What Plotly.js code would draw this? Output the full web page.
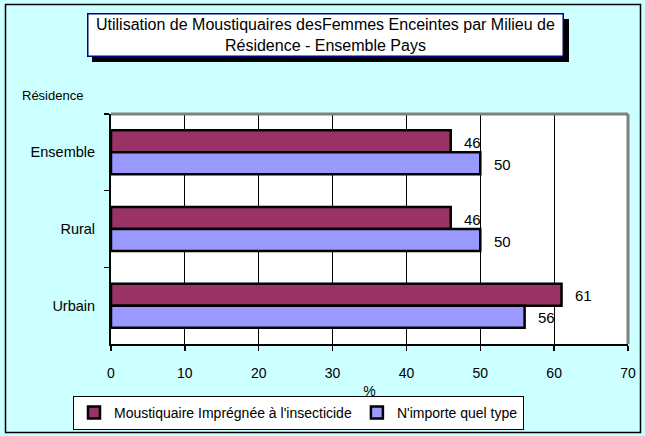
<!DOCTYPE html>
<html>
<head>
<meta charset="utf-8">
<script src="https://cdn.plot.ly/plotly-3.0.1.min.js"></script>
<style>
html,body{margin:0;padding:0;background:#CCFFFF;}
#chart{width:645px;height:436px;}
</style>
</head>
<body>
<div id="chart"></div>
<script>
// Data
var categories = ["Ensemble", "Rural", "Urbain"];
var seriesNames = ["Moustiquaire Imprégnée à l'insecticide", "N'importe quel type"];
var impregnee = [46, 46, 61];
var nimporte = [50, 50, 56];
var xTicks = [0, 10, 20, 30, 40, 50, 60, 70];

var W = 645, H = 436;
var mL = 111, mR = 17, mT = 114, mB = 92;
var pw = W - mL - mR, ph = H - mT - mB;
function px(x){ return (x - mL) / pw; }
function py(y){ return (H - mB - y) / ph; }

var font = "Liberation Sans, Arial, sans-serif";

var traces = [
  {type:"bar", orientation:"h", name:seriesNames[0], y:categories, x:impregnee,
   marker:{color:"#993366", line:{color:"#000000", width:2.5}}, hoverinfo:"x"},
  {type:"bar", orientation:"h", name:seriesNames[1], y:categories, x:nimporte,
   marker:{color:"#9999FF", line:{color:"#000000", width:2.5}}, hoverinfo:"x"}
];

var annotations = [];
[impregnee, nimporte].forEach(function(vals, s){
  vals.forEach(function(v, i){
    annotations.push({x:v, y:categories[i], xref:"x", yref:"y", text:String(v),
      showarrow:false, xanchor:"center", yanchor:"middle", xshift:22, yshift:(s===0?10:-12),
      font:{family:font, size:15, color:"#000"}});
  });
});
// title box
annotations.push({xref:"paper", yref:"paper", x:px(325.5), y:py(35), xanchor:"center", yanchor:"middle",
  text:"Utilisation de Moustiquaires desFemmes Enceintes par Milieu de<br>Résidence - Ensemble Pays",
  showarrow:false, bgcolor:"#FFFFFF", bordercolor:"#000080", borderwidth:1.5, borderpad:0,
  width:474, height:41, align:"center", font:{family:font, size:16, color:"#000"}});
// y axis title
annotations.push({xref:"paper", yref:"paper", x:px(20), y:py(95), xanchor:"left", yanchor:"middle",
  text:"Résidence", showarrow:false, font:{family:font, size:13, color:"#000"}});

var shapes = [
  // title shadow
  {type:"rect", xref:"paper", yref:"paper", x0:px(92), x1:px(569), y0:py(62), y1:py(19),
   fillcolor:"#000000", line:{width:0}, layer:"below"},
  // grey top/right plot border
  {type:"line", xref:"paper", yref:"paper", x0:0, x1:1, y0:1, y1:1, line:{color:"#808080", width:3}},
  {type:"line", xref:"paper", yref:"paper", x0:1, x1:1, y0:0, y1:1, line:{color:"#808080", width:3}},
  // outer border
  {type:"rect", xref:"paper", yref:"paper", x0:px(5.5), x1:px(640.5), y0:py(432.5), y1:py(4.5),
   line:{color:"#000000", width:1.5}}
];

var layout = {
  width:W, height:H,
  margin:{l:mL, r:mR, t:mT, b:mB, pad:0, autoexpand:false},
  paper_bgcolor:"#CCFFFF", plot_bgcolor:"#FFFFFF",
  font:{family:font, size:14, color:"#000"},
  barmode:"group", bargap:0.426, bargroupgap:0,
  showlegend:true,
  legend:{orientation:"h", x:px(73), y:py(396), xanchor:"left", yanchor:"top",
    bgcolor:"#FFFFFF", bordercolor:"#000000", borderwidth:1,
    font:{family:font, size:14, color:"#000"}, traceorder:"normal",
    itemwidth:30},
  xaxis:{range:[0,70], tickvals:xTicks, ticktext:xTicks.map(String),
    showgrid:true, gridcolor:"#000000", gridwidth:1, zeroline:false,
    ticks:"outside", ticklen:5, tickwidth:1.5, tickcolor:"#000", ticklabelstandoff:10,
    showline:true, linecolor:"#000000", linewidth:2,
    title:{text:"%", standoff:6, font:{family:font, size:14, color:"#000"}},
    tickfont:{family:font, size:14, color:"#000"}, fixedrange:true},
  yaxis:{type:"category", categoryorder:"array", categoryarray:categories, autorange:"reversed",
    tickson:"boundaries", ticks:"outside", ticklen:5, tickwidth:1.5, tickcolor:"#000",
    ticklabelstandoff:11,
    showgrid:false, showline:true, linecolor:"#000000", linewidth:2,
    tickfont:{family:font, size:14.5, color:"#000"}, fixedrange:true},
  annotations:annotations,
  shapes:shapes
};

Plotly.newPlot("chart", traces, layout, {displayModeBar:false, staticPlot:true});
</script>
</body>
</html>
